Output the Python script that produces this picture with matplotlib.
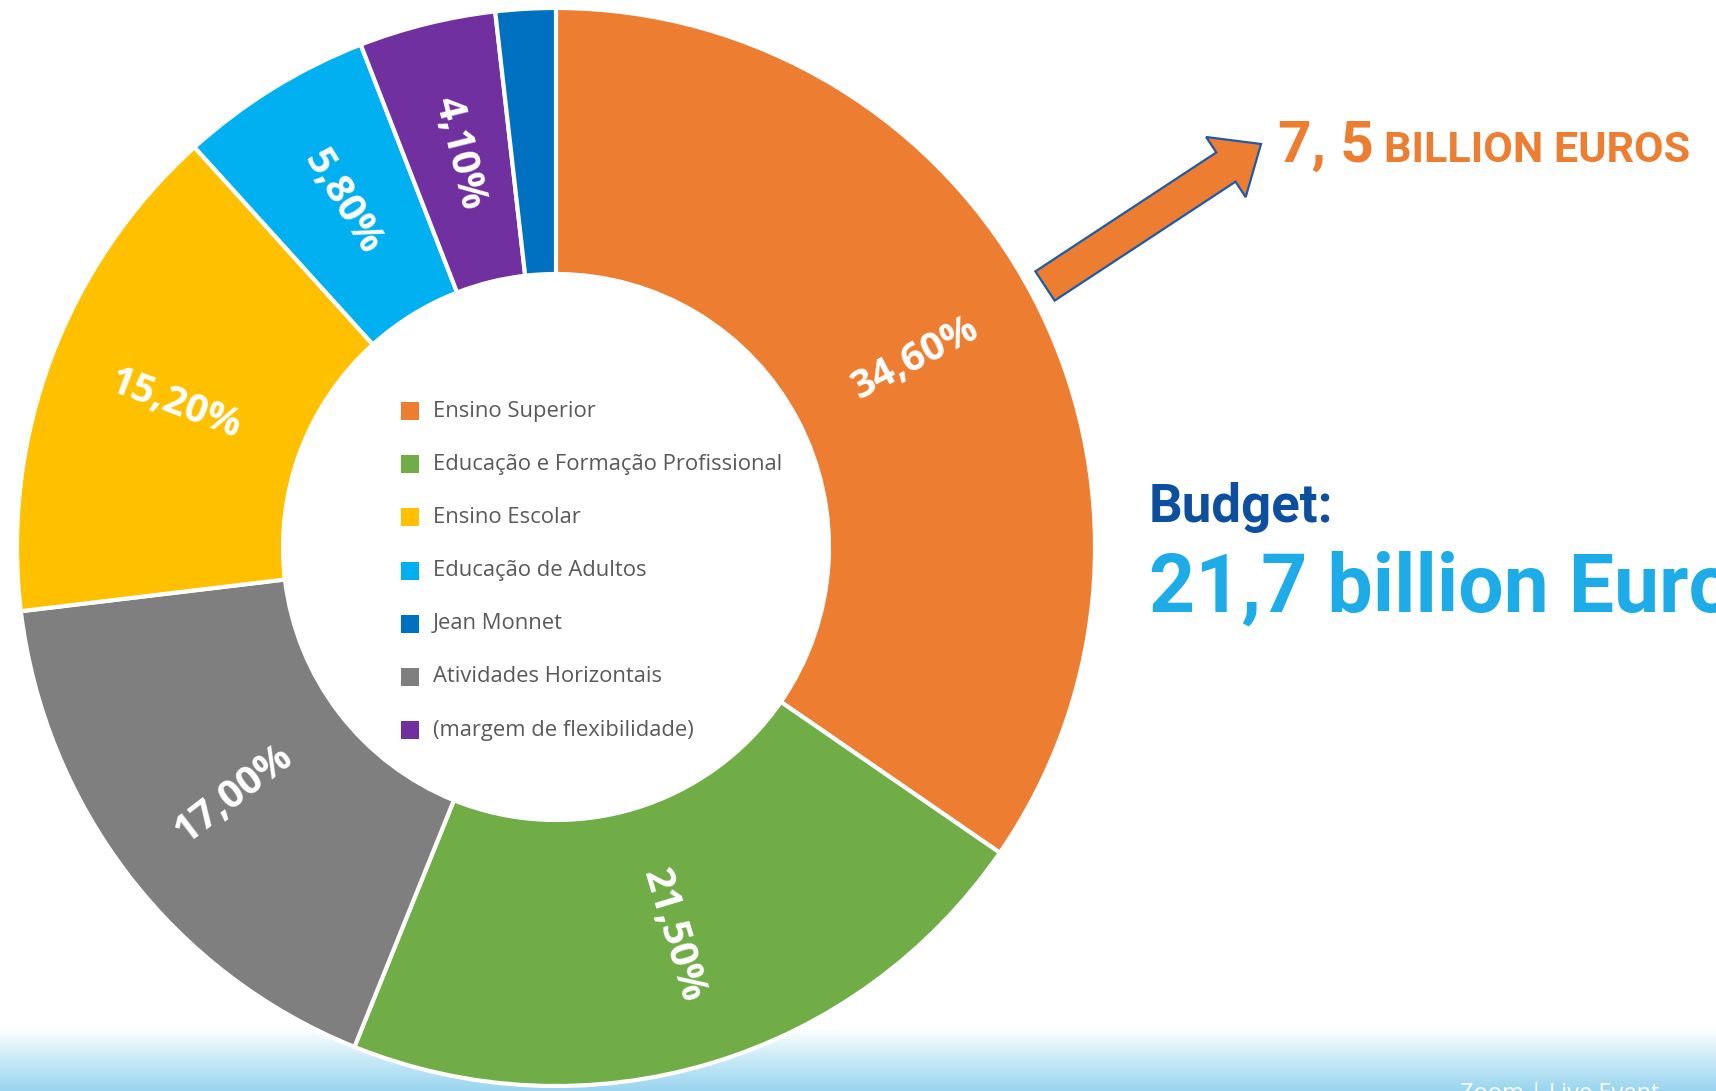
import numpy as np
import matplotlib
matplotlib.use("Agg")
import matplotlib.pyplot as plt
from matplotlib.colors import LinearSegmentedColormap
from matplotlib.patches import FancyArrow

# wedges, clockwise from 12 o'clock
categories = ['Ensino Superior', 'Educação e Formação Profissional', 'Atividades Horizontais',
              'Ensino Escolar', 'Educação de Adultos', '(margem de flexibilidade)', 'Jean Monnet']
shares = [34.6, 21.5, 17.0, 15.2, 5.8, 4.1, 1.8]
pct_labels = ['34,60%', '21,50%', '17,00%', '15,20%', '5,80%', '4,10%', '']

legend_order = ['Ensino Superior', 'Educação e Formação Profissional', 'Ensino Escolar',
                'Educação de Adultos', 'Jean Monnet', 'Atividades Horizontais',
                '(margem de flexibilidade)']

colors = {
    'Ensino Superior': '#ED7D31',
    'Educação e Formação Profissional': '#70AD47',
    'Ensino Escolar': '#FFC000',
    'Educação de Adultos': '#00B0F0',
    'Jean Monnet': '#0070C0',
    'Atividades Horizontais': '#7F7F7F',
    '(margem de flexibilidade)': '#7030A0',
}

W, H = 1716, 1091
fig = plt.figure(figsize=(W / 100, H / 100), dpi=100)
ax = fig.add_axes([0, 0, 1, 1])

def Y(y):  # image row -> data y
    return H - y

# bottom gradient band
band = LinearSegmentedColormap.from_list('band', ['#ffffff', '#c8e9f7', '#99d5ef'])
grad = np.linspace(0, 1, 100).reshape(-1, 1)
ax.imshow(grad, cmap=band, extent=(0, W, Y(H), Y(1028)), aspect='auto', zorder=0, origin='upper')

# donut
cx, cy, r_out, r_in = 556, Y(547), 539, 273
wedges, _ = ax.pie(shares, colors=[colors[c] for c in categories], startangle=90,
                   counterclock=False, center=(cx, cy), radius=r_out,
                   wedgeprops=dict(width=r_out - r_in, edgecolor='white', linewidth=3))

r_lab = (r_out + r_in) / 2
for w, lab in zip(wedges, pct_labels):
    if not lab:
        continue
    mid = (w.theta1 + w.theta2) / 2
    mid = (mid + 180) % 360 - 180
    rot = mid if -90 <= mid <= 90 else mid - 180 if mid > 90 else mid + 180
    x = cx + r_lab * np.cos(np.radians(mid))
    y = cy + r_lab * np.sin(np.radians(mid))
    ax.text(x, y, lab, color='white', fontsize=28.5, fontweight='bold', family='Open Sans',
            rotation=rot, rotation_mode='anchor', ha='center', va='center')

# legend inside the hole
for i, name in enumerate(legend_order):
    yy = Y(411 + 53.2 * i)
    ax.scatter([410], [yy], marker='s', s=150, color=colors[name], linewidths=0, zorder=3)
    ax.text(433, yy, name, color='#595959', fontsize=15.8, family='Open Sans',
            ha='left', va='center')

# arrow and callout
x0, y0, x1, y1 = 1045, 286, 1261, 144
arr = FancyArrow(x0, Y(y0), x1 - x0, Y(y1) - Y(y0), width=35, head_width=72,
                 head_length=42, length_includes_head=True, facecolor='#ED7D31',
                 edgecolor='#1F5AA6', linewidth=1.6, zorder=4)
ax.add_patch(arr)
ax.text(1278, Y(162), '7, 5', color='#ED7D31', fontsize=42, fontweight='bold',
        family='Roboto', ha='left', va='baseline')
ax.text(1384, Y(162), 'BILLION EUROS', color='#ED7D31', fontsize=31, fontweight='bold',
        family='Roboto', ha='left', va='baseline')

ax.text(1149, Y(522), 'Budget:', color='#0B4F9E', fontsize=38, fontweight='bold',
        family='Roboto', ha='left', va='baseline')
ax.text(1149, Y(612), '21,7 billion Euros', color='#1DACE8', fontsize=58, fontweight='bold',
        family='Roboto', ha='left', va='baseline')

ax.text(1460, Y(1082), 'Zoom | Live Event', color='white', fontsize=17, family='Open Sans',
        ha='left', va='top')

ax.set_xlim(0, W)
ax.set_ylim(0, H)
ax.axis('off')
fig.savefig('out.png', dpi=100)
